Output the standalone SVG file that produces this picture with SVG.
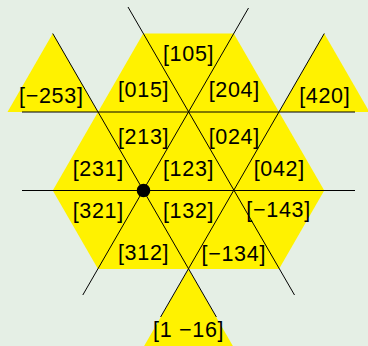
<svg xmlns="http://www.w3.org/2000/svg" width="368" height="346" viewBox="0 0 368 346">
<style>
.bg{fill:#e5efe5}
.tri{fill:#fff200;stroke:none}
.ln{stroke:#000;stroke-width:1;fill:none}
.lbl{font-family:"Liberation Sans",Arial,sans-serif;font-size:21.5px;letter-spacing:0.7px;fill:#000;text-anchor:middle}
</style>
<rect class="bg" x="0" y="0" width="368" height="346"/>
<g id="regions">
<polygon id="hexagon" class="tri" points="143.25,33.5 233.75,33.5 279,112 324.25,190.5 279,269 98,269 52.75,190.5 98,112"/>
<polygon id="tri-left" class="tri" points="52.75,33.5 7.5,112 98,112"/>
<polygon id="tri-right" class="tri" points="324.25,33.5 279,112 369.5,112"/>
<polygon id="tri-bottom" class="tri" points="188.5,269 143.25,347.5 233.75,347.5"/>
</g>
<g id="connectors">
<line class="ln" x1="22" y1="112" x2="355" y2="112"/>
<line class="ln" x1="22" y1="190.5" x2="355" y2="190.5"/>
<line class="ln" x1="128" y1="7" x2="294.5" y2="295"/>
<line class="ln" x1="248.5" y1="8" x2="82.8" y2="295"/>
<line class="ln" x1="52.75" y1="33.5" x2="216.4" y2="317"/>
<line class="ln" x1="324.25" y1="33.5" x2="160.6" y2="317"/>
</g>
<g id="point"><circle cx="143.5" cy="190.5" r="6.8" fill="#000"/></g>
<g id="labels">
<g id="n105"><text class="lbl" x="188.6" y="61">[105]</text></g>
<g id="n015"><text class="lbl" x="143.6" y="97">[015]</text></g>
<g id="n204"><text class="lbl" x="234.3" y="97">[204]</text></g>
<g id="n-253"><text class="lbl" x="51.3" y="103">[−253]</text></g>
<g id="n420"><text class="lbl" x="324.8" y="103">[420]</text></g>
<g id="n213"><text class="lbl" x="143.6" y="144">[213]</text></g>
<g id="n024"><text class="lbl" x="234.3" y="144">[024]</text></g>
<g id="n231"><text class="lbl" x="98.3" y="176">[231]</text></g>
<g id="n123"><text class="lbl" x="188.6" y="176">[123]</text></g>
<g id="n042"><text class="lbl" x="279.3" y="176">[042]</text></g>
<g id="n321"><text class="lbl" x="98.3" y="218">[321]</text></g>
<g id="n132"><text class="lbl" x="188.6" y="218">[132]</text></g>
<g id="n-143"><text class="lbl" x="278.6" y="216.5">[−143]</text></g>
<g id="n312"><text class="lbl" x="143.6" y="260">[312]</text></g>
<g id="n-134"><text class="lbl" x="233.8" y="261">[−134]</text></g>
<g id="n1-16"><text class="lbl" x="188.6" y="337">[1 −16]</text></g>
</g>
</svg>
